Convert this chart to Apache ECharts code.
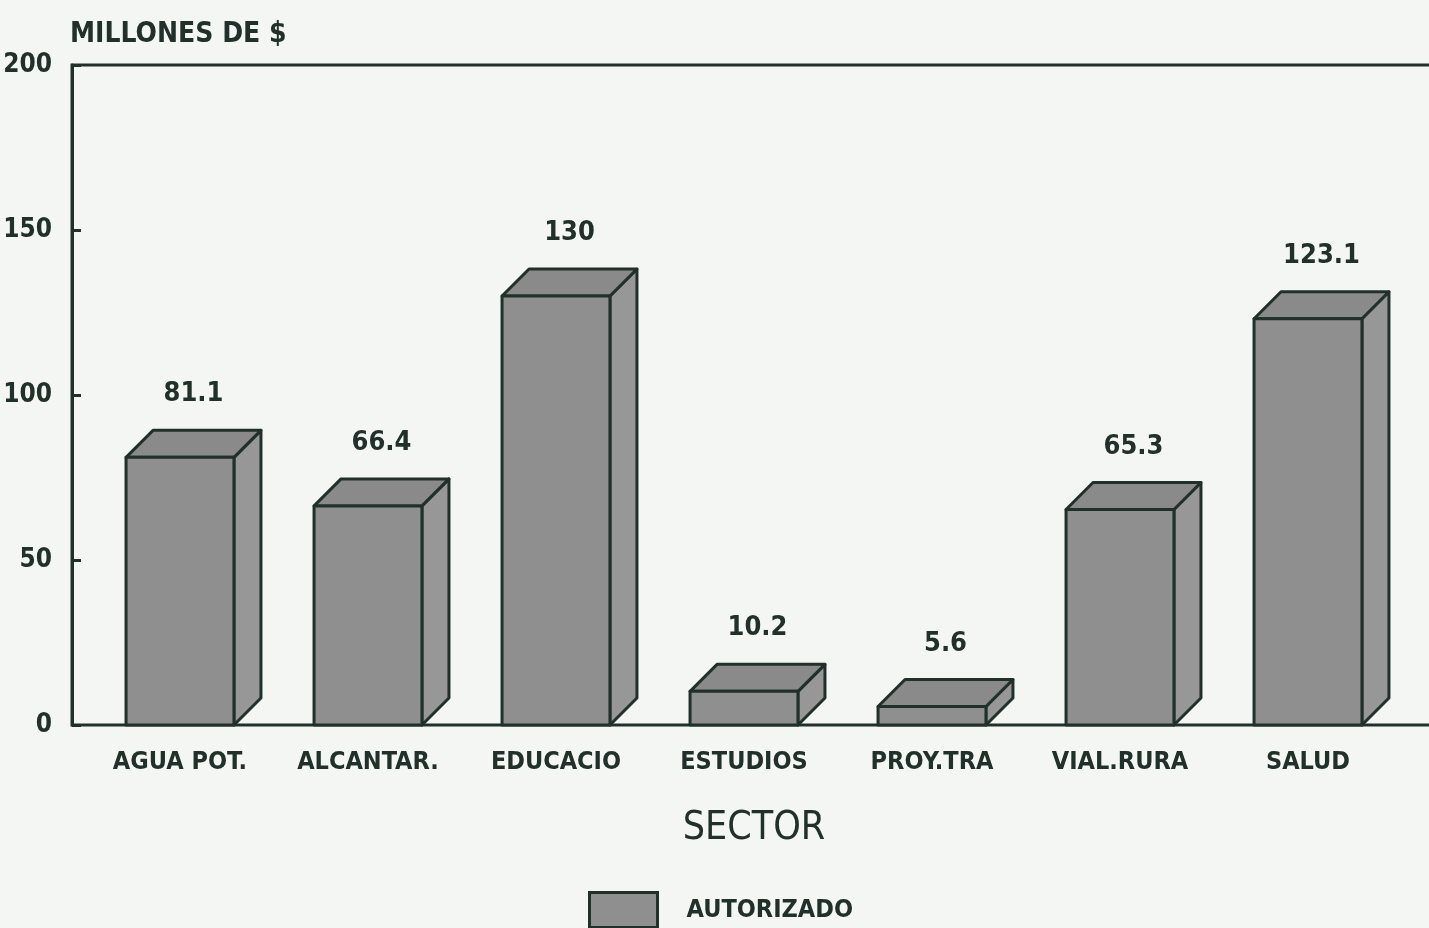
<!DOCTYPE html>
<html>
<head>
<meta charset="utf-8">
<script src="https://cdn.jsdelivr.net/npm/echarts@6/dist/echarts.min.js"></script>
<style>
  html, body { margin: 0; padding: 0; background: #f4f6f4; }
  #chart { width: 1429px; height: 928px; }
</style>
</head>
<body>
<div id="chart"></div>
<script>
// sectores y montos autorizados (millones de $)
const sectores = ["AGUA POT.", "ALCANTAR.", "EDUCACIO", "ESTUDIOS", "PROY.TRA", "VIAL.RURA", "SALUD"];
const autorizado = [81.1, 66.4, 130, 10.2, 5.6, 65.3, 123.1];
const yTicks = [0, 50, 100, 150, 200];

const FONT = "'DejaVu Sans Condensed', 'Liberation Sans Narrow', sans-serif";
const INK = "#22302c";
const depth = 27;      // 3d offset in px
const barFrac = 0.574; // front face width / band width

function renderBar3d(params, api) {
  const v = api.value(1);
  const top = api.coord([api.value(0), v]);
  const base = api.coord([api.value(0), 0]);
  const w = api.size([1, 0])[0] * barFrac;
  const xl = top[0] - w / 2, xr = top[0] + w / 2;
  const yt = top[1], yb = base[1];
  const line = { stroke: INK, lineWidth: 3, lineJoin: "round" };
  return {
    type: "group",
    children: [
      {
        type: "polygon",
        shape: { points: [[xr, yt], [xr + depth, yt - depth], [xr + depth, yb - depth], [xr, yb]] },
        style: Object.assign({ fill: "#979797" }, line)
      },
      {
        type: "polygon",
        shape: { points: [[xl, yt], [xl + depth, yt - depth], [xr + depth, yt - depth], [xr, yt]] },
        style: Object.assign({ fill: "#8a8a8a" }, line)
      },
      {
        type: "rect",
        shape: { x: xl, y: yt, width: w, height: yb - yt },
        style: Object.assign({ fill: "#8f8f8f" }, line)
      },
      {
        type: "text",
        x: top[0] + depth / 2,
        y: yt - depth - 36,
        style: {
          text: String(v),
          fill: INK,
          font: "bold 27px " + FONT,
          align: "center",
          verticalAlign: "middle"
        }
      }
    ]
  };
}

const chart = echarts.init(document.getElementById("chart"));
chart.setOption({
  backgroundColor: "#f4f6f4",
  animation: false,
  legend: {
    left: 588,
    top: 891,
    padding: 0,
    itemWidth: 68,
    itemHeight: 35,
    icon: "rect",
    data: [{ name: "AUTORIZADO", itemStyle: { color: "#8f8f8f", borderColor: INK, borderWidth: 3 } }],
    textStyle: { fontFamily: FONT, fontWeight: "bold", fontSize: 25, color: INK, padding: [6, 0, 0, 24] }
  },
  grid: [
    { left: 72, right: -20, top: 65, bottom: 203, show: true, borderColor: INK, borderWidth: 3, outerBoundsMode: "none" },
    { left: 86, width: 1316, top: 65, bottom: 203, outerBoundsMode: "none" }
  ],
  xAxis: [
    { type: "value", gridIndex: 0, show: false },
    {
      type: "category",
      gridIndex: 1,
      data: sectores,
      axisLine: { show: false },
      axisTick: { show: false },
      axisLabel: { interval: 0, fontFamily: FONT, fontWeight: "bold", fontSize: 25, color: INK, margin: 25 },
      name: "SECTOR",
      nameLocation: "middle",
      nameGap: 84,
      nameTextStyle: { fontFamily: FONT, fontSize: 39, color: INK, padding: [0, 0, 0, 20] }
    }
  ],
  yAxis: [
    {
      type: "value",
      gridIndex: 0,
      min: yTicks[0],
      max: yTicks[yTicks.length - 1],
      interval: 50,
      axisLine: { show: true, lineStyle: { color: INK, width: 3 } },
      axisTick: { show: true, inside: true, length: 9, lineStyle: { color: INK, width: 3 } },
      splitLine: { show: false },
      axisLabel: { fontFamily: FONT, fontWeight: "bold", fontSize: 26, color: INK, margin: 20 },
      name: "MILLONES DE $",
      nameLocation: "end",
      nameGap: 30,
      nameTextStyle: { fontFamily: FONT, fontWeight: "bold", fontSize: 28, color: INK, align: "left", verticalAlign: "middle", padding: [0, 0, 0, -2] }
    },
    { type: "value", gridIndex: 1, min: 0, max: 200, show: false }
  ],
  series: [
    {
      name: "AUTORIZADO",
      type: "custom",
      xAxisIndex: 1,
      yAxisIndex: 1,
      itemStyle: { color: "#8f8f8f", borderColor: INK },
      renderItem: renderBar3d,
      data: autorizado.map((v, i) => [i, v])
    }
  ]
});
</script>
</body>
</html>
